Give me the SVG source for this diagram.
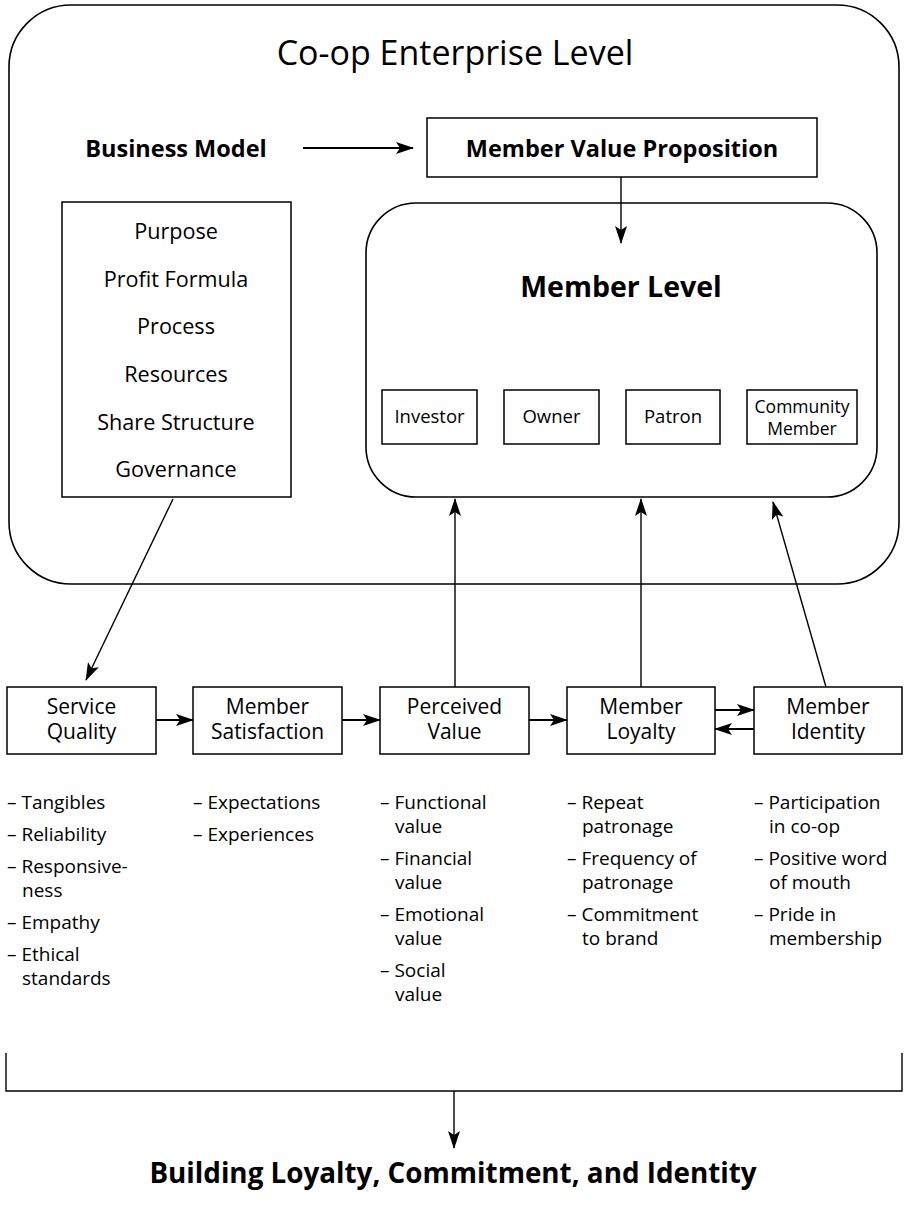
<svg xmlns="http://www.w3.org/2000/svg" width="904" height="1207" viewBox="0 0 904 1207">
  <defs>
    <marker id="head" viewBox="0 0 18 12" markerWidth="18" markerHeight="12" refX="17" refY="6" orient="auto" markerUnits="userSpaceOnUse">
      <path d="M0,0 L18,6 L0,12 L4,6 z" fill="#000"/>
    </marker>
    <style>
      text { font-family: "Open Sans", Lato, "Liberation Sans", sans-serif; fill: #000; }
      .box { fill: #fff; stroke: #000; stroke-width: 1.5; }
      .frame { fill: none; stroke: #000; stroke-width: 1.6; }
      .title { font-size: 34px; text-anchor: middle; }
      .bold { font-weight: bold; font-size: 23.5px; text-anchor: middle; }
      .big { font-weight: bold; font-size: 28.5px; text-anchor: middle; }
      .list { font-size: 21.6px; text-anchor: middle; }
      .role { font-size: 18.5px; text-anchor: middle; }
      .stage { font-size: 21px; text-anchor: middle; }
      .item { font-size: 19px; }
      .conn { fill: none; stroke: #000; stroke-width: 1.4; }
      .thick { stroke-width: 2; }
    </style>
  </defs>

  <!-- enterprise level frame -->
  <g id="enterprise">
    <rect class="frame" x="9" y="5" width="890" height="579" rx="62" ry="62"/>
    <text class="title" x="455" y="65">Co-op Enterprise Level</text>
  </g>

  <g id="business-model">
    <text class="bold" x="176" y="157">Business Model</text>
  </g>

  <g id="value-proposition">
    <rect class="box" x="427" y="118" width="390" height="59"/>
    <text class="bold" x="622" y="157">Member Value Proposition</text>
  </g>

  <g id="model-elements">
    <rect class="box" x="62" y="202" width="229" height="295"/>
    <text class="list" x="176" y="239">Purpose</text>
    <text class="list" x="176" y="287">Profit Formula</text>
    <text class="list" x="176" y="334">Process</text>
    <text class="list" x="176" y="382">Resources</text>
    <text class="list" x="176" y="430">Share Structure</text>
    <text class="list" x="176" y="477">Governance</text>
  </g>

  <g id="member-level">
    <rect class="frame" x="366" y="203" width="511" height="294" rx="50" ry="50"/>
    <text class="big" x="621" y="297">Member Level</text>
  </g>

  <g id="investor">
    <rect class="box" x="382" y="390" width="95" height="54"/>
    <text class="role" x="429.5" y="423">Investor</text>
  </g>
  <g id="owner">
    <rect class="box" x="504" y="390" width="95" height="54"/>
    <text class="role" x="551.5" y="423">Owner</text>
  </g>
  <g id="patron">
    <rect class="box" x="626" y="390" width="94" height="54"/>
    <text class="role" x="673" y="423">Patron</text>
  </g>
  <g id="community-member">
    <rect class="box" x="747" y="390" width="110" height="54"/>
    <text class="role" x="802" y="413" style="font-size:17.5px"><tspan x="802">Community</tspan><tspan x="802" dy="22">Member</tspan></text>
  </g>

  <!-- stages of the member relationship -->
  <g id="service-quality">
    <rect class="box" x="7" y="687" width="149" height="67"/>
    <text class="stage" x="81.5" y="714"><tspan x="81.5">Service</tspan><tspan x="81.5" dy="25">Quality</tspan></text>
  </g>
  <g id="member-satisfaction">
    <rect class="box" x="193" y="687" width="149" height="67"/>
    <text class="stage" x="267.5" y="714"><tspan x="267.5">Member</tspan><tspan x="267.5" dy="25">Satisfaction</tspan></text>
  </g>
  <g id="perceived-value">
    <rect class="box" x="380" y="687" width="149" height="67"/>
    <text class="stage" x="454.5" y="714"><tspan x="454.5">Perceived</tspan><tspan x="454.5" dy="25">Value</tspan></text>
  </g>
  <g id="member-loyalty">
    <rect class="box" x="567" y="687" width="148" height="67"/>
    <text class="stage" x="641" y="714"><tspan x="641">Member</tspan><tspan x="641" dy="25">Loyalty</tspan></text>
  </g>
  <g id="member-identity">
    <rect class="box" x="754" y="687" width="148" height="67"/>
    <text class="stage" x="828" y="714"><tspan x="828">Member</tspan><tspan x="828" dy="25">Identity</tspan></text>
  </g>

  <!-- attribute lists -->
  <g id="quality-items">
    <text class="item" x="7" y="809">– Tangibles</text>
    <text class="item" x="7" y="841">– Reliability</text>
    <text class="item" x="7" y="873"><tspan x="7">– Responsive-</tspan><tspan x="22" dy="24">ness</tspan></text>
    <text class="item" x="7" y="929">– Empathy</text>
    <text class="item" x="7" y="961"><tspan x="7">– Ethical</tspan><tspan x="22" dy="24">standards</tspan></text>
  </g>
  <g id="satisfaction-items">
    <text class="item" x="193" y="809">– Expectations</text>
    <text class="item" x="193" y="841">– Experiences</text>
  </g>
  <g id="value-items">
    <text class="item" x="380" y="809"><tspan x="380">– Functional</tspan><tspan x="395" dy="24">value</tspan></text>
    <text class="item" x="380" y="865"><tspan x="380">– Financial</tspan><tspan x="395" dy="24">value</tspan></text>
    <text class="item" x="380" y="921"><tspan x="380">– Emotional</tspan><tspan x="395" dy="24">value</tspan></text>
    <text class="item" x="380" y="977"><tspan x="380">– Social</tspan><tspan x="395" dy="24">value</tspan></text>
  </g>
  <g id="loyalty-items">
    <text class="item" x="567" y="809"><tspan x="567">– Repeat</tspan><tspan x="582" dy="24">patronage</tspan></text>
    <text class="item" x="567" y="865"><tspan x="567">– Frequency of</tspan><tspan x="582" dy="24">patronage</tspan></text>
    <text class="item" x="567" y="921"><tspan x="567">– Commitment</tspan><tspan x="582" dy="24">to brand</tspan></text>
  </g>
  <g id="identity-items">
    <text class="item" x="754" y="809"><tspan x="754">– Participation</tspan><tspan x="769" dy="24">in co-op</tspan></text>
    <text class="item" x="754" y="865"><tspan x="754">– Positive word</tspan><tspan x="769" dy="24">of mouth</tspan></text>
    <text class="item" x="754" y="921"><tspan x="754">– Pride in</tspan><tspan x="769" dy="24">membership</tspan></text>
  </g>

  <g id="outcome">
    <text class="big" x="453" y="1183" style="font-size:27.8px">Building Loyalty, Commitment, and Identity</text>
  </g>

  <!-- connectors -->
  <g id="connectors">
    <line class="conn thick" x1="303" y1="148" x2="413" y2="148" marker-end="url(#head)"/>
    <line class="conn" x1="621" y1="177" x2="621" y2="243" marker-end="url(#head)"/>
    <line class="conn" x1="173" y1="499" x2="86" y2="680" marker-end="url(#head)"/>
    <line class="conn" x1="455" y1="687" x2="455" y2="499" marker-end="url(#head)"/>
    <line class="conn" x1="641" y1="687" x2="641" y2="499" marker-end="url(#head)"/>
    <line class="conn" x1="826" y1="687" x2="773" y2="502" marker-end="url(#head)"/>
    <line class="conn thick" x1="156" y1="720" x2="193" y2="720" marker-end="url(#head)"/>
    <line class="conn thick" x1="342" y1="720" x2="380" y2="720" marker-end="url(#head)"/>
    <line class="conn thick" x1="529" y1="720" x2="567" y2="720" marker-end="url(#head)"/>
    <line class="conn thick" x1="715" y1="710" x2="754" y2="710" marker-end="url(#head)"/>
    <line class="conn thick" x1="754" y1="729" x2="715" y2="729" marker-end="url(#head)"/>
    <polyline class="conn" points="6,1053 6,1091 902,1091 902,1053"/>
    <line class="conn" x1="454" y1="1091" x2="454" y2="1148" marker-end="url(#head)"/>
  </g>
</svg>
